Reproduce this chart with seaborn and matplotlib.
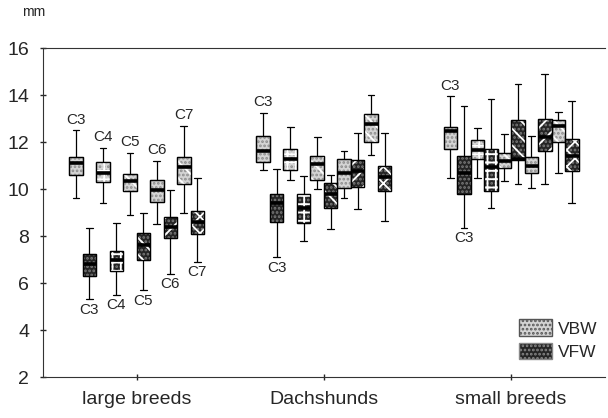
import numpy as np
import pandas as pd
import matplotlib
matplotlib.use("Agg")
import matplotlib.pyplot as plt
import seaborn as sns
from matplotlib.patches import PathPatch, Patch

# groups on the x axis and the ten boxes inside each group
groups = ["large breeds", "Dachshunds", "small breeds"]
boxes = ["C3 VBW", "C3 VFW", "C4 VBW", "C4 VFW", "C5 VBW",
         "C5 VFW", "C6 VBW", "C6 VFW", "C7 VBW", "C7 VFW"]

# box statistics (mm): whisker low, q1, median, q3, whisker high
large_lo = [9.6, 5.3, 9.4, 5.5, 8.9, 5.7, 8.5, 6.4, 9.0, 6.9]
large_q1 = [10.6, 6.3, 10.3, 6.5, 9.9, 7.0, 9.45, 7.9, 10.2, 8.1]
large_med = [11.1, 6.8, 10.7, 7.0, 10.35, 7.6, 9.95, 8.4, 10.95, 8.6]
large_q3 = [11.35, 7.25, 11.15, 7.35, 10.65, 8.15, 10.4, 8.8, 11.35, 9.05]
large_hi = [12.5, 8.35, 11.75, 8.55, 11.55, 9.0, 11.2, 9.95, 12.7, 10.45]

dachs_lo = [10.8, 7.1, 10.4, 7.8, 10.0, 8.3, 9.6, 9.15, 11.45, 8.65]
dachs_q1 = [11.15, 8.6, 10.8, 8.55, 10.4, 9.2, 10.05, 10.1, 12.0, 9.9]
dachs_med = [11.6, 9.4, 11.3, 9.2, 11.05, 9.8, 10.7, 10.75, 12.75, 10.5]
dachs_q3 = [12.25, 9.8, 11.7, 9.8, 11.4, 10.25, 11.3, 11.25, 13.2, 11.0]
dachs_hi = [13.25, 10.85, 12.65, 10.55, 12.2, 10.6, 11.6, 12.4, 14.0, 12.4]

small_lo = [10.45, 8.35, 10.45, 9.2, 10.35, 10.2, 10.05, 10.2, 10.7, 9.4]
small_q1 = [11.7, 9.8, 11.3, 9.9, 10.9, 11.25, 10.7, 11.6, 12.0, 10.75]
small_med = [12.45, 10.7, 11.65, 10.95, 11.2, 11.3, 11.0, 12.2, 12.7, 11.4]
small_q3 = [12.65, 11.4, 12.1, 11.7, 11.55, 12.95, 11.35, 13.0, 12.95, 12.15]
small_hi = [13.95, 13.55, 12.6, 13.85, 12.35, 14.45, 12.25, 14.9, 13.3, 13.75]

stats = {
    "large breeds": (large_lo, large_q1, large_med, large_q3, large_hi),
    "Dachshunds": (dachs_lo, dachs_q1, dachs_med, dachs_q3, dachs_hi),
    "small breeds": (small_lo, small_q1, small_med, small_q3, small_hi),
}

# five points per box give exactly these quartiles; whiskers go to min/max
rows = []
for g, cols in stats.items():
    for i, b in enumerate(boxes):
        for c in cols:
            rows.append({"group": g, "box": b, "mm": c[i]})
df = pd.DataFrame(rows)

sns.set_style("ticks")
plt.rcParams["font.family"] = ["Liberation Sans", "DejaVu Sans"]
plt.rcParams["hatch.linewidth"] = 1.3

fig = plt.figure(figsize=(6.08, 4.18), dpi=100)
ax = fig.add_axes([0.0707, 0.098, 0.924, 0.787])

width = 0.72
palette = {b: ("#d4d4d4" if b.endswith("VBW") else "#242424") for b in boxes}
sns.boxplot(data=df, x="group", y="mm", hue="box", order=groups, hue_order=boxes,
            palette=palette, saturation=1, width=width, gap=0, whis=(0, 100),
            linewidth=0.9, linecolor="black",
            medianprops=dict(color="black", linewidth=2.6),
            legend=False, ax=ax)

# hatches: stipple for every box, white line patterns on top
vbw_lines = [None, "++", "\\\\", None, "\\\\"]
vfw_lines = [None, "++", "\\\\", "//", "xx"]
step = width / len(boxes)
for p in list(ax.patches):
    ext = p.get_path().get_extents()
    cx = (ext.x0 + ext.x1) / 2
    g = int(round(cx))
    i = int(round((cx - g + width / 2) / step - 0.5))
    k = i // 2
    is_vbw = i % 2 == 0
    path = p.get_path()
    dots = "#8c8c8c" if is_vbw else "#7a7a7a"
    ax.add_patch(PathPatch(path, facecolor="none", edgecolor=dots, lw=0,
                           hatch="....", zorder=2.02, transform=p.get_transform()))
    h = vbw_lines[k] if is_vbw else vfw_lines[k]
    if h:
        ax.add_patch(PathPatch(path, facecolor="none", edgecolor="white", lw=0,
                               hatch=h, zorder=2.03, transform=p.get_transform()))
    ax.add_patch(PathPatch(path, facecolor="none", edgecolor="black", lw=0.9,
                           zorder=2.05, transform=p.get_transform()))

# C labels next to the boxes
def box_x(g, i):
    return g - width / 2 + step / 2 + step * i

names = ["C3", "C4", "C5", "C6", "C7"]
for k, n in enumerate(names):
    ax.text(box_x(0, 2 * k), large_hi[2 * k] + 0.15, n, ha="center", va="bottom", fontsize=11)
    ax.text(box_x(0, 2 * k + 1), large_lo[2 * k + 1] - 0.15, n, ha="center", va="top", fontsize=11)
for g, (lo, q1, med, q3, hi) in enumerate(stats.values()):
    if g == 0:
        continue
    ax.text(box_x(g, 0), hi[0] + 0.15, "C3", ha="center", va="bottom", fontsize=11)
    ax.text(box_x(g, 1), lo[1] - 0.15, "C3", ha="center", va="top", fontsize=11)

ax.set_ylim(2, 16)
ax.set_xlim(-0.5, 2.5)
ax.set_yticks(range(2, 17, 2))
ax.set_xlabel("")
ax.set_ylabel("")
ax.tick_params(axis="both", direction="inout", length=4, width=1, labelsize=14, pad=8)
ax.spines["right"].set_visible(False)
for s in ["left", "bottom", "top"]:
    ax.spines[s].set_linewidth(0.8)
    ax.spines[s].set_color("#333333")

handles = [Patch(facecolor="#d4d4d4", edgecolor="#555555", hatch="....", label="VBW"),
           Patch(facecolor="#242424", edgecolor="#888888", hatch="....", label="VFW")]
ax.legend(handles=handles, loc="lower right", bbox_to_anchor=(1.005, 0.02), frameon=False,
          fontsize=12.5, handlelength=1.9, handleheight=1.1, handletextpad=0.3,
          labelspacing=0.35, borderaxespad=0.2)

fig.text(0.036, 0.972, "mm", fontsize=10, ha="left", va="center")

plt.savefig("out.png", dpi=100)
plt.close()
